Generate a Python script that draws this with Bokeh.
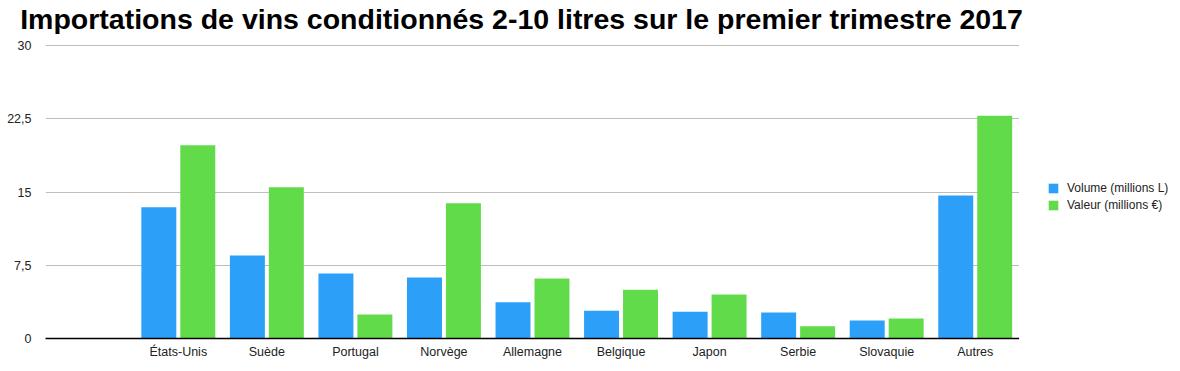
from bokeh.plotting import figure
from bokeh.models import (ColumnDataSource, FactorRange, Range1d, FixedTicker,
                          Legend, LegendItem, Label)
from bokeh.layouts import column, row
from bokeh.transform import dodge
from bokeh.embed import file_html
from bokeh.resources import INLINE

# ---- data ----
categories = ["États-Unis", "Suède", "Portugal", "Norvège", "Allemagne",
              "Belgique", "Japon", "Serbie", "Slovaquie", "Autres"]
volume = [13.45, 8.5, 6.65, 6.25, 3.7, 2.85, 2.75, 2.65, 1.85, 14.65]
valeur = [19.8, 15.5, 2.45, 13.85, 6.15, 5.0, 4.5, 1.25, 2.05, 22.8]
y_ticks = [0, 7.5, 15, 22.5, 30]
y_tick_labels = ["0", "7,5", "15", "22,5", "30"]
series_names = ["Volume (millions L)", "Valeur (millions €)"]
title_text = "Importations de vins conditionnés 2-10 litres sur le premier trimestre 2017"

BLUE = "#2ca0f9"
GREEN = "#62db4b"
FONT = "Liberation Sans"


def blank(fig):
    fig.outline_line_color = None
    fig.background_fill_color = "white"
    fig.border_fill_color = "white"
    fig.xaxis.visible = False
    fig.yaxis.visible = False
    fig.xgrid.visible = False
    fig.ygrid.visible = False


# ---- title strip ----
tf = figure(width=1164, height=34, x_range=Range1d(0, 1164), y_range=Range1d(0, 34),
            output_backend="svg", toolbar_location=None,
            min_border_left=0, min_border_right=0, min_border_top=0, min_border_bottom=0)
blank(tf)
tf.add_layout(Label(x=521, y=16, text=title_text, text_font=FONT,
                    text_font_style="bold", text_font_size="28.5px",
                    text_align="center", text_baseline="alphabetic",
                    text_color="black"))

# ---- main chart ----
src = ColumnDataSource(dict(cat=categories, volume=volume, valeur=valeur))
factors = [" "] + categories

p = figure(width=1019, height=331, x_range=FactorRange(*factors, range_padding=0),
           y_range=Range1d(0, 31.13), output_backend="svg", toolbar_location=None,
           min_border_left=45, min_border_right=0, min_border_top=0,
           min_border_bottom=27)
p.outline_line_color = None
p.background_fill_color = "white"
p.border_fill_color = "white"

r1 = p.vbar(x=dodge("cat", -0.22, range=p.x_range), top="volume", width=0.395,
            source=src, fill_color=BLUE, line_color=None)
r2 = p.vbar(x=dodge("cat", 0.22, range=p.x_range), top="valeur", width=0.395,
            source=src, fill_color=GREEN, line_color=None)

p.xaxis.axis_line_color = "black"
p.xaxis.axis_line_width = 1.6
p.xaxis.major_tick_line_color = None
p.xaxis.major_tick_out = 0
p.xaxis.major_tick_in = 0
p.xaxis.minor_tick_line_color = None
p.xaxis.major_label_standoff = 6
p.xaxis.major_label_text_font = FONT
p.xaxis.major_label_text_font_size = "12.5px"
p.xaxis.major_label_text_color = "#222222"

p.yaxis.ticker = FixedTicker(ticks=y_ticks)
p.yaxis.major_label_overrides = {t: l for t, l in zip(y_ticks, y_tick_labels)}
p.yaxis.axis_line_color = None
p.yaxis.major_tick_line_color = None
p.yaxis.major_tick_out = 0
p.yaxis.major_tick_in = 0
p.yaxis.minor_tick_line_color = None
p.yaxis.major_label_standoff = 14
p.yaxis.major_label_text_font = FONT
p.yaxis.major_label_text_font_size = "12.5px"
p.yaxis.major_label_text_color = "#222222"

p.xgrid.grid_line_color = None
p.ygrid.grid_line_color = "#bdbdbd"
p.ygrid.grid_line_width = 1.2
p.ygrid.ticker = FixedTicker(ticks=y_ticks)

# ---- legend strip (swatches only; its renderers sit outside the visible range) ----
lf = figure(width=161, height=331, x_range=Range1d(0, 1), y_range=Range1d(0, 1),
            output_backend="svg", toolbar_location=None,
            min_border_left=0, min_border_right=0, min_border_top=0, min_border_bottom=0)
blank(lf)
swatch = ColumnDataSource(dict(x=[-5.0], top=[-5.0]))
l1 = lf.vbar(x="x", top="top", width=0.1, source=swatch, fill_color=BLUE, line_color=None)
l2 = lf.vbar(x="x", top="top", width=0.1, source=swatch, fill_color=GREEN, line_color=None)
legend = Legend(items=[LegendItem(label=series_names[0], renderers=[l1]),
                       LegendItem(label=series_names[1], renderers=[l2])],
                location=(28, 126), orientation="vertical",
                glyph_width=12, glyph_height=12, label_height=12,
                label_standoff=8, spacing=3, padding=0, margin=0,
                border_line_color=None, background_fill_alpha=0,
                label_text_font=FONT, label_text_font_size="12px",
                label_text_color="#222222")
lf.add_layout(legend, "center")

layout = column(tf, row(p, lf, spacing=0), spacing=0)

open("out.html", "w").write(file_html(layout, INLINE))
